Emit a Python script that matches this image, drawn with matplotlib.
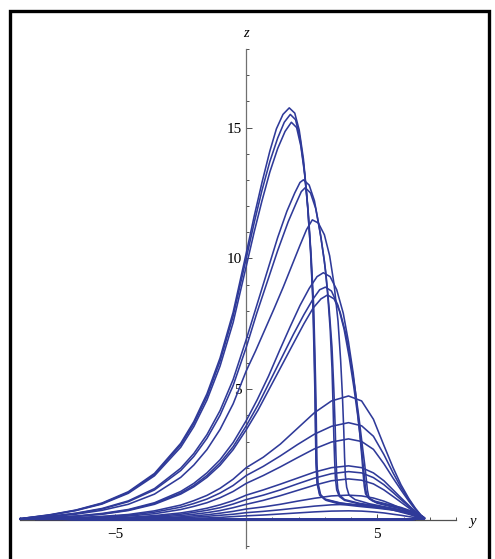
import matplotlib
matplotlib.use("Agg")
import matplotlib.pyplot as plt
from matplotlib.patches import Rectangle
from matplotlib.ticker import FixedLocator, MultipleLocator

# y grid shared by the rising branches (left half of each loop)
rise_y = [-8.63, -7.5, -6.5, -5.5, -4.5, -3.5, -2.5, -2.0, -1.5, -1.0, -0.5, 0.0]

# tall loops (peak ~15-16)
rise_a = [
    [0.05, 0.20, 0.38, 0.65, 1.08, 1.78, 2.93, 3.76, 4.82, 6.19, 7.94, 10.2],
    [0.05, 0.19, 0.37, 0.63, 1.05, 1.74, 2.87, 3.68, 4.72, 6.07, 7.79, 10.0],
    [0.05, 0.18, 0.36, 0.61, 1.02, 1.69, 2.78, 3.57, 4.58, 5.88, 7.55, 9.7],
]
top_a_y = [
    [0, 0.3, 0.6, 0.9, 1.15, 1.4, 1.64, 1.85, 2.02, 2.18, 2.32, 2.44, 2.53, 2.58, 2.62, 2.64, 2.66, 2.7, 2.8, 3.0, 3.5, 4.2, 5.0, 5.6, 6.1, 6.5, 6.7],
    [0, 0.3, 0.6, 0.9, 1.2, 1.45, 1.68, 1.88, 2.05, 2.2, 2.34, 2.46, 2.55, 2.6, 2.63, 2.65, 2.67, 2.71, 2.8, 3.0, 3.6, 4.3, 5.0, 5.6, 6.1, 6.45, 6.65],
    [0, 0.3, 0.6, 0.9, 1.2, 1.48, 1.72, 1.92, 2.08, 2.23, 2.37, 2.48, 2.57, 2.62, 2.66, 2.68, 2.7, 2.74, 2.84, 3.05, 3.6, 4.3, 5.0, 5.6, 6.1, 6.45, 6.65],
]
top_a_z = [
    [10.2, 11.6, 12.9, 14.1, 14.95, 15.5, 15.75, 15.55, 14.9, 13.8, 12.3, 10.5, 8.6, 6.6, 4.8, 3.3, 2.2, 1.4, 0.95, 0.78, 0.66, 0.56, 0.48, 0.4, 0.3, 0.17, 0.08],
    [10.0, 11.35, 12.6, 13.7, 14.6, 15.2, 15.5, 15.3, 14.6, 13.5, 12.0, 10.2, 8.3, 6.4, 4.7, 3.3, 2.2, 1.45, 1.0, 0.8, 0.65, 0.56, 0.48, 0.4, 0.3, 0.17, 0.08],
    [9.7, 11.0, 12.2, 13.3, 14.2, 14.85, 15.2, 15.0, 14.3, 13.2, 11.7, 10.0, 8.2, 6.3, 4.6, 3.2, 2.1, 1.4, 0.95, 0.75, 0.6, 0.52, 0.45, 0.38, 0.28, 0.16, 0.07],
]

# loops peaking ~13
rise_b = [
    [0.04, 0.14, 0.26, 0.44, 0.73, 1.2, 1.98, 2.54, 3.26, 4.18, 5.37, 6.9],
    [0.04, 0.13, 0.25, 0.42, 0.70, 1.15, 1.89, 2.43, 3.12, 4.0, 5.14, 6.6],
]
top_b_y = [
    [0, 0.4, 0.8, 1.2, 1.55, 1.85, 2.05, 2.18, 2.4, 2.6, 2.8, 2.98, 3.1, 3.2, 3.27, 3.31, 3.34, 3.37, 3.4, 3.45, 3.55, 3.75, 4.3, 5.0, 5.6, 6.1, 6.45, 6.65],
    [0, 0.4, 0.8, 1.2, 1.6, 1.9, 2.1, 2.25, 2.45, 2.65, 2.85, 3.03, 3.16, 3.27, 3.34, 3.39, 3.42, 3.45, 3.49, 3.56, 3.75, 4.3, 5.0, 5.6, 6.1, 6.45, 6.65],
]
top_b_z = [
    [6.9, 8.2, 9.5, 10.8, 11.8, 12.5, 12.9, 13.0, 12.8, 12.2, 11.1, 9.9, 8.7, 7.3, 5.8, 4.4, 3.2, 2.3, 1.6, 1.15, 0.9, 0.75, 0.62, 0.52, 0.43, 0.33, 0.19, 0.08],
    [6.6, 7.9, 9.1, 10.3, 11.4, 12.1, 12.55, 12.7, 12.5, 11.9, 10.8, 9.5, 8.1, 6.6, 5.0, 3.6, 2.5, 1.7, 1.2, 0.95, 0.78, 0.64, 0.53, 0.43, 0.32, 0.19, 0.08],
]

# loop peaking ~11.5
rise_c = [[0.04, 0.12, 0.22, 0.37, 0.6, 0.99, 1.63, 2.1, 2.69, 3.46, 4.44, 5.7]]
top_c_y = [[0, 0.35, 0.7, 1.05, 1.41, 1.75, 2.05, 2.3, 2.52, 2.75, 2.98, 3.18, 3.35, 3.5, 3.6, 3.67, 3.72, 3.75, 3.78, 3.83, 3.92, 4.15, 4.7, 5.3, 5.8, 6.2, 6.5, 6.7]]
top_c_z = [[5.7, 6.45, 7.25, 8.05, 8.9, 9.75, 10.5, 11.1, 11.47, 11.35, 10.9, 10.1, 9.0, 7.6, 6.1, 4.7, 3.4, 2.4, 1.7, 1.25, 0.95, 0.78, 0.62, 0.5, 0.4, 0.28, 0.16, 0.07]]

# loops peaking ~9
rise_d = [
    [0.04, 0.09, 0.15, 0.25, 0.4, 0.66, 1.09, 1.4, 1.8, 2.3, 2.96, 3.8],
    [0.04, 0.08, 0.14, 0.23, 0.38, 0.63, 1.03, 1.32, 1.7, 2.18, 2.8, 3.6],
    [0.04, 0.08, 0.14, 0.22, 0.36, 0.6, 0.99, 1.27, 1.63, 2.09, 2.69, 3.45],
]
top_d_y = [
    [0, 0.42, 0.85, 1.28, 1.68, 2.05, 2.4, 2.7, 2.94, 3.2, 3.45, 3.7, 3.9, 4.08, 4.22, 4.33, 4.41, 4.46, 4.5, 4.55, 4.65, 4.9, 5.4, 5.9, 6.3, 6.55, 6.72],
    [0, 0.45, 0.9, 1.35, 1.8, 2.2, 2.55, 2.8, 3.02, 3.25, 3.5, 3.73, 3.93, 4.1, 4.25, 4.37, 4.45, 4.51, 4.55, 4.6, 4.7, 4.95, 5.4, 5.9, 6.3, 6.55, 6.72],
    [0, 0.45, 0.9, 1.35, 1.8, 2.2, 2.55, 2.85, 3.1, 3.35, 3.58, 3.8, 3.98, 4.15, 4.3, 4.42, 4.52, 4.58, 4.62, 4.67, 4.78, 5.0, 5.45, 5.95, 6.35, 6.6, 6.75],
]
top_d_z = [
    [3.8, 4.6, 5.5, 6.5, 7.4, 8.2, 8.85, 9.3, 9.45, 9.3, 8.8, 7.9, 6.8, 5.6, 4.4, 3.3, 2.4, 1.75, 1.3, 1.0, 0.85, 0.72, 0.6, 0.48, 0.34, 0.2, 0.08],
    [3.6, 4.4, 5.3, 6.2, 7.1, 7.85, 8.45, 8.8, 8.9, 8.75, 8.2, 7.3, 6.2, 5.1, 4.0, 3.0, 2.2, 1.6, 1.2, 0.95, 0.8, 0.68, 0.56, 0.45, 0.32, 0.18, 0.07],
    [3.45, 4.2, 5.05, 5.9, 6.75, 7.5, 8.1, 8.45, 8.6, 8.45, 7.95, 7.1, 6.1, 5.0, 3.9, 2.9, 2.1, 1.55, 1.15, 0.9, 0.75, 0.64, 0.53, 0.42, 0.3, 0.17, 0.07],
]

# low smooth bumps
rise_e = [
    [0.03, 0.06, 0.09, 0.14, 0.21, 0.35, 0.57, 0.74, 0.94, 1.21, 1.56, 2.0],
    [0.03, 0.05, 0.08, 0.12, 0.18, 0.3, 0.49, 0.63, 0.8, 1.03, 1.32, 1.7],
    [0.03, 0.05, 0.07, 0.1, 0.15, 0.24, 0.4, 0.52, 0.66, 0.85, 1.09, 1.4],
    [0.03, 0.04, 0.05, 0.07, 0.1, 0.17, 0.27, 0.35, 0.45, 0.58, 0.74, 0.95],
    [0.03, 0.04, 0.05, 0.06, 0.09, 0.14, 0.22, 0.29, 0.37, 0.47, 0.61, 0.78],
    [0.03, 0.04, 0.04, 0.05, 0.07, 0.11, 0.17, 0.22, 0.28, 0.36, 0.47, 0.6],
    [0.03, 0.03, 0.04, 0.04, 0.06, 0.08, 0.12, 0.16, 0.2, 0.26, 0.33, 0.42],
    [0.03, 0.03, 0.03, 0.04, 0.04, 0.06, 0.09, 0.11, 0.14, 0.18, 0.22, 0.28],
    [0.03, 0.03, 0.03, 0.03, 0.03, 0.04, 0.05, 0.07, 0.08, 0.1, 0.13, 0.16],
]
top_e_y = [0, 0.65, 1.3, 1.95, 2.6, 3.25, 3.9, 4.4, 4.85, 5.25, 5.6, 5.9, 6.2, 6.45, 6.65, 6.8]
top_e_z = [
    [2.0, 2.4, 2.9, 3.5, 4.1, 4.55, 4.74, 4.55, 3.85, 2.85, 2.0, 1.35, 0.82, 0.45, 0.2, 0.08],
    [1.7, 2.05, 2.45, 2.88, 3.28, 3.58, 3.72, 3.6, 3.2, 2.5, 1.8, 1.25, 0.78, 0.42, 0.19, 0.08],
    [1.4, 1.7, 2.03, 2.38, 2.72, 2.98, 3.1, 3.0, 2.7, 2.15, 1.6, 1.15, 0.72, 0.4, 0.18, 0.07],
    [0.95, 1.15, 1.37, 1.6, 1.83, 2.0, 2.07, 2.0, 1.8, 1.5, 1.15, 0.85, 0.56, 0.32, 0.16, 0.07],
    [0.78, 0.95, 1.15, 1.38, 1.6, 1.77, 1.85, 1.8, 1.62, 1.35, 1.05, 0.78, 0.52, 0.3, 0.15, 0.07],
    [0.6, 0.75, 0.93, 1.13, 1.33, 1.5, 1.57, 1.52, 1.38, 1.15, 0.9, 0.68, 0.46, 0.27, 0.14, 0.06],
    [0.42, 0.5, 0.6, 0.72, 0.83, 0.92, 0.95, 0.92, 0.84, 0.72, 0.58, 0.45, 0.32, 0.2, 0.11, 0.06],
    [0.28, 0.33, 0.39, 0.46, 0.53, 0.58, 0.6, 0.58, 0.53, 0.46, 0.38, 0.3, 0.22, 0.14, 0.09, 0.05],
    [0.16, 0.19, 0.23, 0.27, 0.31, 0.34, 0.35, 0.34, 0.31, 0.27, 0.22, 0.18, 0.13, 0.09, 0.06, 0.04],
]

# flat return along z ~ 0 from the right corner back to the left tail
return_y = [6.45, 6.0, 5.0, 3.5, 2.0, 0.5, -1.0, -2.5, -4.0, -5.5, -7.0, -8.0, -8.5, -8.63]
return_z = [0.03, 0.02, 0.02, 0.02, 0.02, 0.02, 0.02, 0.02, 0.02, 0.02, 0.03, 0.03, 0.04, 0.05]

LINE = "#2f3a99"
SERIF = ["Liberation Serif", "DejaVu Serif"]

fig = plt.figure(figsize=(4.95, 5.59), dpi=100)
ax = fig.add_axes([20 / 495, 11 / 559, 436 / 495, 499 / 559])
ax.set_xlim(-8.63, 8.0)
ax.set_ylim(-1.07, 18.0)
ax.patch.set_visible(False)

loops = []
for rises, tys, tzs in [(rise_a, top_a_y, top_a_z), (rise_b, top_b_y, top_b_z),
                        (rise_c, top_c_y, top_c_z), (rise_d, top_d_y, top_d_z)]:
    for r, ty, tz in zip(rises, tys, tzs):
        loops.append((rise_y + ty[1:] + return_y, r + tz[1:] + return_z))
for r, tz in zip(rise_e, top_e_z):
    loops.append((rise_y + top_e_y[1:] + return_y, r + tz[1:] + return_z))

for yy, zz in loops:
    ax.plot(yy, zz, color=LINE, lw=1.15, solid_joinstyle="round",
            solid_capstyle="round", zorder=3, clip_on=False)

# axes through the origin, Mathematica style
for side in ["top", "right"]:
    ax.spines[side].set_visible(False)
ax.spines["left"].set_position(("data", 0))
ax.spines["bottom"].set_position(("data", 0))
ax.spines["left"].set_color("#707070")
ax.spines["bottom"].set_color("#505050")
ax.spines["left"].set_linewidth(0.9)
ax.spines["bottom"].set_linewidth(0.9)

ax.xaxis.set_major_locator(FixedLocator([-5, 5]))
ax.xaxis.set_minor_locator(MultipleLocator(1))
ax.yaxis.set_major_locator(FixedLocator([5, 10, 15]))
ax.yaxis.set_minor_locator(MultipleLocator(1))
ax.tick_params(which="both", direction="in", color="#505050", width=0.7)
ax.tick_params(which="major", length=4)
ax.tick_params(which="minor", length=2.5)
ax.tick_params(axis="x", pad=6)
ax.tick_params(axis="y", pad=3)
for lab in ax.get_xticklabels() + ax.get_yticklabels():
    lab.set_family(SERIF)
    lab.set_fontsize(11)

ax.text(8.5, -0.05, "y", family=SERIF, style="italic", fontsize=10.5,
        ha="left", va="center", clip_on=False)
ax.text(0, 18.35, "z", family=SERIF, style="italic", fontsize=10.5,
        ha="center", va="bottom", clip_on=False)

# thick outer frame
fig.patches.append(Rectangle((10 / 495, -0.05), 479 / 495, 1 - 10.5 / 559 + 0.05,
                             transform=fig.transFigure, fill=False,
                             edgecolor="black", lw=2.4))

fig.savefig("out.png", dpi=100)
